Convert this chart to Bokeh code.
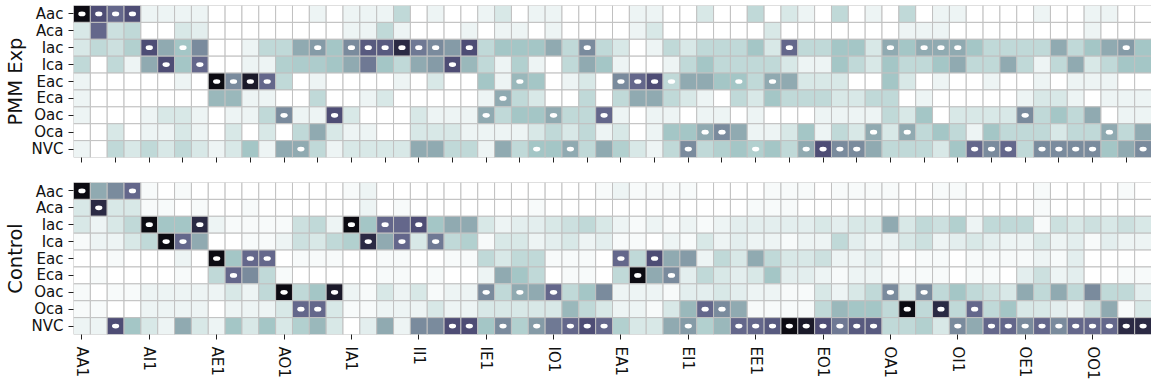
from bokeh.plotting import figure
from bokeh.models import ColumnDataSource, LinearColorMapper, FixedTicker, Range1d
from bokeh.layouts import column
from bokeh.embed import file_html
from bokeh.resources import INLINE
from bokeh.transform import transform

rows = ["Aac", "Aca", "Iac", "Ica", "Eac", "Eca", "Oac", "Oca", "NVC"]
groups = ["AA", "AI", "AE", "AO", "IA", "II", "IE", "IO", "EA", "EI", "EE", "EO", "OA", "OI", "OE", "OO"]
col_names = [g + str(i) for g in groups for i in range(1, 5)]

# ---- PMM Exp panel (shade level 0..10 per cell) ----
pmm_aac = [10,8,7,8,1,1,1,1,0,0,0,0,0,0, 1,0,1,1,1,3,0,1,0,0,1,2,0,1,1,0,0, 0,0,1,1,0,0,2,0,0,3,0,2,1,0,3,0,1, 0,3,0,1,1,0,0,0,0,1,0,0,1,1,0,0]
pmm_aca = [2,7,2.5,3,0,0,2,1.5,0,0,0,0,0,0, 0,0,1,1,3,1,0,0,0,1,0,1,1,0,1,0,0, 0,0,1,2,0,0,0,0,0,0,2,0,0,0,0,0,0, 0,1,1,1,0,0,0,0,0,0,0,0,1,0,0,0]
pmm_iac = [2,3,2.5,3.5,8,5,4,6,0,0,1,3,3,5, 5.5,4,6,7.5,7.5,9,6.5,6,5.5,8,3,4,4,4,5,3,6, 3,2,0,1,3,2,3,3,3,4,2,7,3,3,4,4,2, 5,4,5,5,5,4,3,3,3,3,5,3,4,5,5.5,4]
pmm_ica = [3,0,3,1,5,8,4,7,0,0,1,1,3.5,3.7, 3.7,4,5,6.5,4,3,5,5.5,8,4.5,3,1,3.5,1,0,3,5, 4,1,0,0,1,3,4,3,3,3,3,2,1,1,4,3,2, 4,3,3,4,5,3,3,5,3,1,3,5,2,3,4,4]
pmm_eac = [1,0,0,0,0,0,1,0,10,6,9.5,7,3,0, 1,0,0,0,0,1,0,2,0,0,4,1,4.5,4,0,1,2, 0,6,7,8,3,5,5,4,4,3,5,5,2,2,2,0,0, 4,2,0,1,0,0,1,0,0,1,0,1,1,1,0,0]
pmm_eca = [1,0,0,0,0,0,0,0,4.5,4.5,1,1,0,0, 3,0,0,1,2,0,0,0,0,0,1,5,3,2,0,0,3, 0,3,5,5,3,2,1,0,3,2,4,3,3,3,2,2,3, 3,0,1,0,0,0,0,0,1,2,2,1,0,1,1,1]
pmm_oac = [1,0,0,0,1,2,2,1,0,1,1,3,6,1, 1,8,2,0,0,0,2,1,1,1,5,3,4,4,5,3,3, 7,1,0,1,1,0,1,1,0,1,0,0,0,1,1,1,1, 3,2,4,0,2,2,2,2,6,3,4,3,5,0,1,1]
pmm_oca = [0,0,2,0,1,1,2,1,0,2,0,2,0,3, 5,2,1,1,0,0,2,2,2,1,1,1,1,2,3,2,3, 1,2,0,1,4,4,5,6,5,1,1,2,4,1,3,2,5, 2,5,3,4,3,1,4,3,3,3,2,3,3,5,3,5]
pmm_nvc = [1,0,3,2,3,2,3,2,1,2,4,1,5,5, 3,1,2,2,2,2,5,5,3,3,1,5,3,4,4,5,3, 5,3.5,2,1,3,6,3,3.5,4,3.5,4,3,5,8,6,6,5, 3,3,3,2,4,7,6,7,3,6,6,6,6,4,5,6]

pmm_dots_aac = [0, 1, 2, 3]
pmm_dots_aca = []
pmm_dots_iac = [4, 6, 14, 16, 17, 18, 19, 20, 21, 23, 30, 42, 48, 50, 51, 52, 62]
pmm_dots_ica = [5, 7, 22]
pmm_dots_eac = [8, 9, 10, 11, 26, 32, 33, 34, 35, 39, 41]
pmm_dots_eca = [25]
pmm_dots_oac = [12, 15, 24, 28, 31, 56]
pmm_dots_oca = [37, 38, 47, 49, 61]
pmm_dots_nvc = [13, 27, 29, 36, 40, 43, 44, 45, 46, 53, 54, 55, 57, 58, 59, 60, 63]

# ---- Control panel ----
ctl_aac = [10,5,6,7,0.5,0,0.5,0,0,0,0,0,0,0, 0,0,0.5,1,0,0,0,0,0,0,0,0,0,0,0,0,0, 0.5,1,0.5,0.5,0.5,0.5,0,0,0,0,0.5,0.5,0.5,0,0.5,0.5,0.5, 0.5,0,0,0.5,0.5,0,0,0,0,0.5,0,0,0,0,0.5,0]
ctl_aca = [2,9,2,2,0.5,0.5,0,0.5,0,0,0.5,0,0,0, 0,0,0,1,0,0.5,0,0,0,0,0,0,0,0.5,0,0,0, 0,0,0,0,0,0,0,0,0,0.5,0.5,0.5,0,0,0,0,0, 0,0,0,0,0,0,0,0,0,0.5,0,0,0,0,0,0]
ctl_iac = [2,1,2,3,10,4,4,9,1,0.5,0.5,0.5,0.5,2.5, 3,1,10,4,7,7,8,4,5,5,2,1,1.5,1.5,2,2.5,3, 2,1,0.5,1,0.5,1,0.5,1,1.5,1.5,1.5,1.5,1.5,2,1.5,2,2, 5,2,3,2.5,3.5,1,3,3,3,0.5,2.5,2,2.5,2,2.5,2]
ctl_ica = [0.5,1,1,2,3,10,7,5,0,0,0.5,0.5,1,2.5, 2,3,3.5,9,5,7,2,6.5,3,3.5,0.5,2,2,1,1.5,2,1, 1.5,0.5,0.5,0,1,0.5,2,1,1.5,1,1,0.5,1,1,3,1.5,1, 1,2,2.5,1,1.5,2,1.5,1,1,2,1,1.5,0.5,1.5,1,1]
ctl_eac = [0,0,0.5,0,0,0,1,0,10,4,7,7,0,0.5, 0.5,0.5,0,0,0.5,0.5,0,0,0.5,0.5,3,2,3,3,0.5,0.5,0.5, 0,7,3,8,5,5.5,1,3,2,5,3,2,2,2.5,1,1,1.5, 0.5,0,0.5,0.5,0,0.5,0.5,0.5,0.5,1,0.5,1.5,0,0,0,0]
ctl_eca = [0,0.5,0,0,0,0,0.5,0,3,7,6,3,0.5,0, 0,0,0,0,0.5,0.5,0,0.5,0,0,1,5,4,3,0,0.5,0.5, 0,3,10,5,6,1.5,3,2,1.5,2,4,1.5,1.5,1,0.5,1,1, 0.5,0.5,0.5,0.5,0,0.5,0.5,0,1.5,2.5,1,1.5,0,0,0.5,0.5]
ctl_oac = [0.5,0,0.5,0.5,1,1,1,1,1,2,1,3,10,3, 4,9.5,1,0.5,2,1,2,0.5,1,1,6,3,5,5,7,3,4, 6,1,1,1,0.5,1.5,1.5,2,1.5,1,1,0.5,0.5,2,1,2,3, 6,2,6,3,4,3,2.5,2,5,3,5,3,6,3,3,1.5]
ctl_oca = [0.5,0.5,0,0,1,1,1,1,0,1,1,1,2,7, 7,2,0.5,0.5,1,1,1,2,1,1,2,2,2,2,2,4.5,3, 2,1,1,0.5,2,4.5,7,6,5,0.5,0.5,0.5,0.5,3,4.5,4,4, 3,10,3,9,3,7,3,4,2,2,1.5,1,2.5,5,0.5,2]
ctl_nvc = [1,1,8,4,2,1,5,2,1,4,2,4,2,3.5, 4.5,2,0,1.5,5,1,6,6,8,8,4,6,3.5,5.5,6.5,7,8, 7,3.5,2,2,5,5.5,3.5,4.5,7,7,7.5,10,9.5,8,6.5,7.5,7.5, 3,3,3.5,2,6,5,7,7,6,7,6,7,7,7,9,9]

ctl_dots_aac = [0, 3]
ctl_dots_aca = [1]
ctl_dots_iac = [4, 7, 16, 18, 20]
ctl_dots_ica = [5, 6, 17, 19, 21]
ctl_dots_eac = [8, 10, 11, 32, 34]
ctl_dots_eca = [9, 33, 35]
ctl_dots_oac = [12, 15, 24, 26, 28, 48, 50]
ctl_dots_oca = [13, 14, 37, 38, 49, 51, 53]
ctl_dots_nvc = [2, 22, 23, 25, 27, 29, 30, 31, 36, 39, 40, 41, 42, 43, 44, 45, 46, 47,
                52, 54, 55, 56, 57, 58, 59, 60, 61, 62, 63]

pmm_values = [pmm_aac, pmm_aca, pmm_iac, pmm_ica, pmm_eac, pmm_eca, pmm_oac, pmm_oca, pmm_nvc]
pmm_dots = [pmm_dots_aac, pmm_dots_aca, pmm_dots_iac, pmm_dots_ica, pmm_dots_eac,
            pmm_dots_eca, pmm_dots_oac, pmm_dots_oca, pmm_dots_nvc]
ctl_values = [ctl_aac, ctl_aca, ctl_iac, ctl_ica, ctl_eac, ctl_eca, ctl_oac, ctl_oca, ctl_nvc]
ctl_dots = [ctl_dots_aac, ctl_dots_aca, ctl_dots_iac, ctl_dots_ica, ctl_dots_eac,
            ctl_dots_eca, ctl_dots_oac, ctl_dots_oca, ctl_dots_nvc]

# ---- colour map (white -> pale teal -> slate -> near black) ----
anchors = ["#ffffff", "#edf4f4", "#d8e8e7", "#c0d9d8", "#a4c6c6", "#90abb1",
           "#7a8b9d", "#64688b", "#4e4d75", "#2c2b45", "#0c0b12"]


def _rgb(h):
    return [int(h[i:i + 2], 16) for i in (1, 3, 5)]


_a = [_rgb(h) for h in anchors]
palette = []
for i in range(256):
    t = i / 255 * (len(anchors) - 1)
    k = min(int(t), len(anchors) - 2)
    f = t - k
    c = [round((1 - f) * _a[k][j] + f * _a[k + 1][j]) for j in range(3)]
    palette.append("#%02x%02x%02x" % tuple(c))
mapper = LinearColorMapper(palette=palette, low=0, high=10)

FONT = "DejaVu Sans"
FRAME_W = 1078
FRAME_H = 152


def panel(values, dots, label, bottom):
    xs, ys, vs = [], [], []
    for r, rowvals in enumerate(values):
        for c, v in enumerate(rowvals):
            xs.append(c)
            ys.append(r)
            vs.append(v)
    dx, dy = [], []
    for r, cols in enumerate(dots):
        for c in cols:
            dx.append(c)
            dy.append(r)
    p = figure(frame_width=FRAME_W, frame_height=FRAME_H,
               x_range=Range1d(-0.5, len(col_names) - 0.5),
               y_range=Range1d(len(rows) - 0.5, -0.5),
               output_backend="svg", toolbar_location=None,
               min_border_left=72, min_border_right=0,
               min_border_top=(0 if bottom else 5),
               min_border_bottom=(0 if bottom else 25))
    p.rect(x="x", y="y", width=1, height=1, source=ColumnDataSource(dict(x=xs, y=ys, v=vs)),
           fill_color=transform("v", mapper), line_color="#c0c0c0", line_width=1)
    p.ellipse(x="x", y="y", width=0.43, height=0.28, source=ColumnDataSource(dict(x=dx, y=dy)),
              fill_color="white", line_color=None)
    p.xgrid.visible = False
    p.ygrid.visible = False
    p.outline_line_color = None
    p.background_fill_color = "white"
    p.border_fill_color = "white"

    ya = p.yaxis[0]
    ya.ticker = FixedTicker(ticks=list(range(len(rows))))
    ya.major_label_overrides = {i: n for i, n in enumerate(rows)}
    ya.axis_line_color = None
    ya.minor_tick_line_color = None
    ya.major_tick_in = 0
    ya.major_tick_out = 5
    ya.major_tick_line_color = "#222222"
    ya.major_label_standoff = 5
    ya.major_label_text_font = FONT
    ya.major_label_text_font_size = "15px"
    ya.major_label_text_color = "#111111"
    ya.axis_label = label
    ya.axis_label_text_font = FONT
    ya.axis_label_text_font_size = "19.5px"
    ya.axis_label_text_font_style = "normal"
    ya.axis_label_text_color = "#111111"
    ya.axis_label_standoff = 2

    xa = p.xaxis[0]
    xa.axis_line_color = None
    xa.minor_tick_line_color = None
    xa.major_tick_in = 0
    xa.major_tick_out = 5
    xa.major_tick_line_color = "#222222"
    xa.major_label_text_font = FONT
    xa.major_label_text_font_size = "15px"
    xa.major_label_text_color = "#111111"
    if bottom:
        ticks = list(range(0, len(col_names), 4))
        xa.ticker = FixedTicker(ticks=ticks)
        xa.major_label_overrides = {i: col_names[i] for i in ticks}
        xa.major_label_orientation = "vertical"
        xa.major_label_standoff = 7
    else:
        ticks = list(range(0, len(col_names), 2))
        xa.ticker = FixedTicker(ticks=ticks)
        xa.major_label_overrides = {i: "" for i in ticks}
        xa.major_label_standoff = 0
    return p


p1 = panel(pmm_values, pmm_dots, "PMM Exp", False)
p2 = panel(ctl_values, ctl_dots, "Control", True)
layout = column(p1, p2, spacing=0)

open("out.html", "w").write(file_html(layout, INLINE))
